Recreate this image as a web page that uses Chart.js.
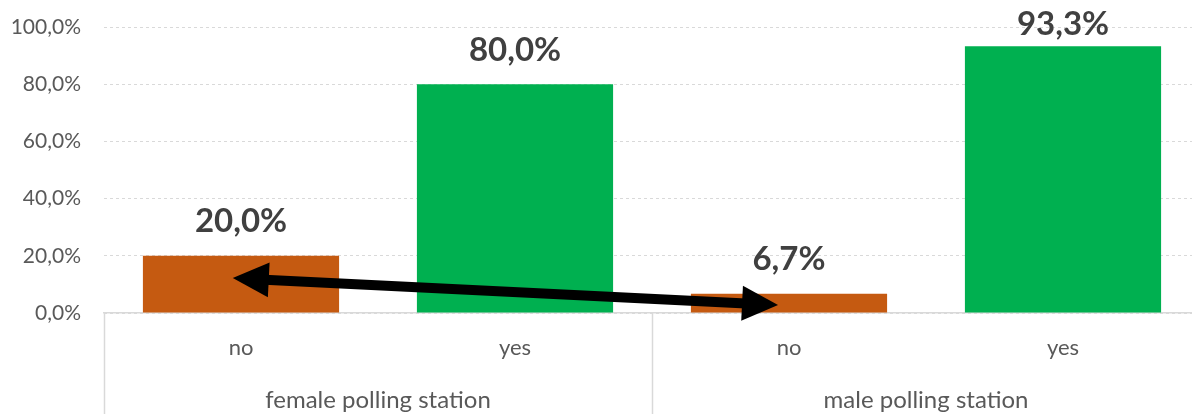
<!DOCTYPE html>
<html>
<head>
<meta charset="utf-8">
<script src="https://cdn.jsdelivr.net/npm/chart.js@4.4.1/dist/chart.umd.min.js"></script>
<style>
    html, body { margin: 0; padding: 0; background: #fff; overflow: hidden; }
    #wrap { position: relative; width: 1200px; height: 414px; }
</style>
</head>
<body>
<div id="wrap"><canvas id="pollChart"></canvas></div>
<script>
(function () {
    'use strict';

    // answers per category, percent
    const answers = ['no', 'yes', 'no', 'yes'];
    const shares = [20.0, 80.0, 6.7, 93.3];
    const barColors = ['#C55A11', '#00B050', '#C55A11', '#00B050'];
    const stations = ['female polling station', 'male polling station'];
    const yTicks = [0, 20, 40, 60, 80, 100];
    // double-headed arrow, [category position, percent]
    const arrowFrom = [-0.03, 12.2];
    const arrowTo = [1.96, 2.8];

    const FONT = 'Lato, "Open Sans", sans-serif';
    const GREY = '#595959';
    const LINE = '#d9d9d9';

    function fmtPct(v) {
        return v.toFixed(1).replace('.', ',') + '%';
    }

    const valueLabels = {
        id: 'valueLabels',
        afterDatasetsDraw(chart) {
            const ctx = chart.ctx;
            const meta = chart.getDatasetMeta(0);
            ctx.save();
            ctx.font = 'bold 33px ' + FONT;
            ctx.fillStyle = '#404040';
            ctx.textAlign = 'center';
            ctx.textBaseline = 'middle';
            meta.data.forEach((bar, i) => {
                // keep the label inside the canvas for tall bars
                const ly = Math.max(bar.y - 34, 24);
                ctx.fillText(fmtPct(shares[i]), bar.x, ly);
            });
            ctx.restore();
        }
    };

    const groupAxis = {
        id: 'groupAxis',
        afterDraw(chart) {
            const ctx = chart.ctx;
            const x = chart.scales.x;
            const top = chart.chartArea.bottom;
            const bottom = chart.height;
            ctx.save();
            ctx.strokeStyle = LINE;
            ctx.lineWidth = 1.5;
            [-0.5, 1.5].forEach(p => {
                const px = Math.round(x.getPixelForValue(p)) + 0.5;
                ctx.beginPath();
                ctx.moveTo(px, top);
                ctx.lineTo(px, bottom);
                ctx.stroke();
            });
            ctx.font = '24px ' + FONT;
            ctx.fillStyle = GREY;
            ctx.textAlign = 'center';
            ctx.textBaseline = 'middle';
            stations.forEach((name, g) => {
                const cx = x.getPixelForValue(g * 2 + 0.5);
                ctx.fillText(name, cx, top + 87);
            });
            ctx.restore();
        }
    };

    const arrow = {
        id: 'arrow',
        afterDatasetsDraw(chart) {
            const ctx = chart.ctx;
            const x = chart.scales.x;
            const y = chart.scales.y;
            const x1 = x.getPixelForValue(arrowFrom[0]);
            const y1 = y.getPixelForValue(arrowFrom[1]);
            const x2 = x.getPixelForValue(arrowTo[0]);
            const y2 = y.getPixelForValue(arrowTo[1]);
            const ang = Math.atan2(y2 - y1, x2 - x1);
            const headLen = 36;
            const headHalf = 17.5;

            function head(tx, ty, a) {
                const bx = tx - Math.cos(a) * headLen;
                const by = ty - Math.sin(a) * headLen;
                ctx.beginPath();
                ctx.moveTo(tx, ty);
                ctx.lineTo(bx + Math.sin(a) * headHalf, by - Math.cos(a) * headHalf);
                ctx.lineTo(bx - Math.sin(a) * headHalf, by + Math.cos(a) * headHalf);
                ctx.closePath();
                ctx.fill();
            }

            ctx.save();
            ctx.strokeStyle = '#000';
            ctx.fillStyle = '#000';
            ctx.lineWidth = 10;
            ctx.beginPath();
            ctx.moveTo(x1 + Math.cos(ang) * (headLen - 4), y1 + Math.sin(ang) * (headLen - 4));
            ctx.lineTo(x2 - Math.cos(ang) * (headLen - 4), y2 - Math.sin(ang) * (headLen - 4));
            ctx.stroke();
            head(x2, y2, ang);
            head(x1, y1, ang + Math.PI);
            ctx.restore();
        }
    };

    new Chart(document.getElementById('pollChart'), {
        type: 'bar',
        data: {
            labels: answers,
            datasets: [{
                data: shares,
                backgroundColor: barColors,
                borderWidth: 0,
                barPercentage: 0.716,
                categoryPercentage: 1
            }]
        },
        options: {
            responsive: true,
            maintainAspectRatio: false,
            animation: false,
            events: [],
            layout: { padding: 0 },
            plugins: {
                legend: { display: false },
                tooltip: { enabled: false }
            },
            scales: {
                x: {
                    grid: { display: false, drawTicks: false },
                    border: { display: true, color: LINE, width: 1.5 },
                    ticks: {
                        color: GREY,
                        font: { family: FONT, size: 22 },
                        padding: 22
                    },
                    afterFit(scale) { scale.height = 101; }
                },
                y: {
                    min: 0,
                    max: 100,
                    afterBuildTicks(scale) {
                        scale.ticks = yTicks.map(v => ({ value: v }));
                    },
                    grid: { color: LINE, lineWidth: 1, drawTicks: false },
                    border: { display: false, dash: [3, 3] },
                    ticks: {
                        color: GREY,
                        font: { family: FONT, size: 21 },
                        padding: 23,
                        callback: v => fmtPct(v)
                    },
                    afterFit(scale) {
                        scale.width = 104;
                        scale.paddingTop = 27;
                        scale.paddingBottom = 0;
                    }
                }
            }
        },
        plugins: [valueLabels, arrow, groupAxis]
    });
})();
</script>
</body>
</html>
